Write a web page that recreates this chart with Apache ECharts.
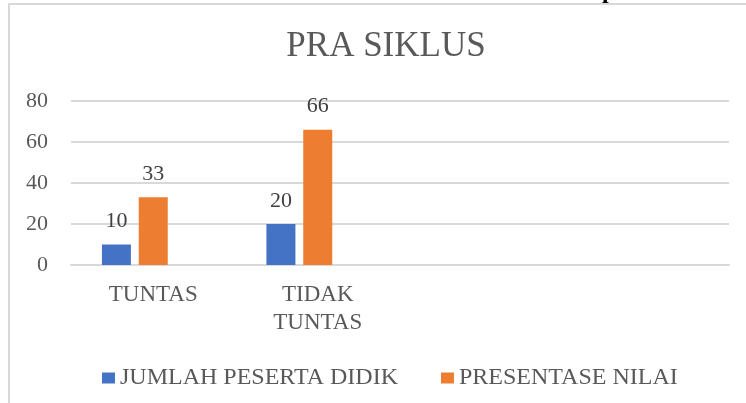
<!DOCTYPE html>
<html>
<head>
<meta charset="utf-8">
<script src="https://cdn.jsdelivr.net/npm/echarts@6/dist/echarts.min.js"></script>
<style>
    html, body {
        margin: 0;
        padding: 0;
        background: #fff;
    }
    #chart {
        width: 746px;
        height: 403px;
    }
</style>
</head>
<body>
<div id="chart"></div>
<script>
    // kategori (2 kategori terakhir kosong seperti di grafik Excel)
    var categories = ['TUNTAS', 'TIDAK\nTUNTAS', '', '']
    var jumlahPeserta = [10, 20, null, null]
    var presentaseNilai = [33, 66, null, null]
    var seriKosong = [null, null, null, null]
    var yTicks = [0, 20, 40, 60, 80]

    var font = 'Liberation Serif'
    var grey = '#595959'

    function draw() {
        var chart = echarts.init(document.getElementById('chart'))

        var labelTop = {
            show: true,
            position: 'top',
            distance: 12,
            fontFamily: font,
            fontSize: 22,
            color: '#404040'
        }

        var option = {
            backgroundColor: '#fff',
            textStyle: {
                fontFamily: font
            },
            title: {
                text: 'PRA SIKLUS',
                left: 381,
                textAlign: 'center',
                top: 24,
                textStyle: {
                    fontFamily: font,
                    fontSize: 35,
                    fontWeight: 'normal',
                    color: grey
                }
            },
            legend: {
                data: ['JUMLAH PESERTA DIDIK', 'PRESENTASE NILAI'],
                left: 97,
                top: 361,
                icon: 'rect',
                itemWidth: 13,
                itemHeight: 11,
                itemGap: 43,
                textStyle: {
                    fontFamily: font,
                    fontSize: 24,
                    color: grey
                }
            },
            grid: {
                left: 71,
                right: 17,
                top: 101,
                bottom: 138
            },
            xAxis: {
                type: 'category',
                data: categories,
                axisLine: {
                    lineStyle: {color: '#d9d9d9', width: 2}
                },
                axisTick: {show: false},
                axisLabel: {
                    interval: 0,
                    margin: 16,
                    fontFamily: font,
                    fontSize: 23,
                    lineHeight: 28,
                    color: grey
                }
            },
            yAxis: {
                type: 'value',
                min: yTicks[0],
                max: yTicks[yTicks.length - 1],
                interval: 20,
                axisLine: {show: false},
                axisTick: {show: false},
                splitLine: {
                    lineStyle: {color: '#d9d9d9', width: 2}
                },
                axisLabel: {
                    margin: 23,
                    fontFamily: font,
                    fontSize: 22,
                    color: grey
                }
            },
            series: [
                {
                    name: 'JUMLAH PESERTA DIDIK',
                    type: 'bar',
                    data: jumlahPeserta,
                    barWidth: 29,
                    barGap: '27%',
                    itemStyle: {color: '#4472c4'},
                    label: labelTop
                },
                {
                    name: 'PRESENTASE NILAI',
                    type: 'bar',
                    data: presentaseNilai,
                    barWidth: 29,
                    itemStyle: {color: '#ed7d31'},
                    label: labelTop
                },
                {
                    // seri kosong, hanya menjaga posisi batang
                    name: '',
                    type: 'bar',
                    data: seriKosong,
                    barWidth: 29,
                    itemStyle: {color: '#a5a5a5'}
                }
            ],
            graphic: [
                {
                    // bingkai grafik
                    type: 'rect',
                    silent: true,
                    shape: {x: 9, y: 4, width: 800, height: 500},
                    style: {fill: 'none', stroke: '#d9d9d9', lineWidth: 2}
                },
                {
                    // potongan teks dokumen di atas grafik
                    type: 'text',
                    silent: true,
                    x: 602,
                    y: 4,
                    style: {
                        text: 'p',
                        fontFamily: font,
                        fontWeight: 'bold',
                        fontSize: 24,
                        fill: '#000',
                        verticalAlign: 'bottom'
                    }
                }
            ]
        }

        chart.setOption(option)
    }

    if (document.fonts && document.fonts.load) {
        document.fonts.load('22px "Liberation Serif"').then(draw, draw)
    } else {
        draw()
    }
</script>
</body>
</html>
